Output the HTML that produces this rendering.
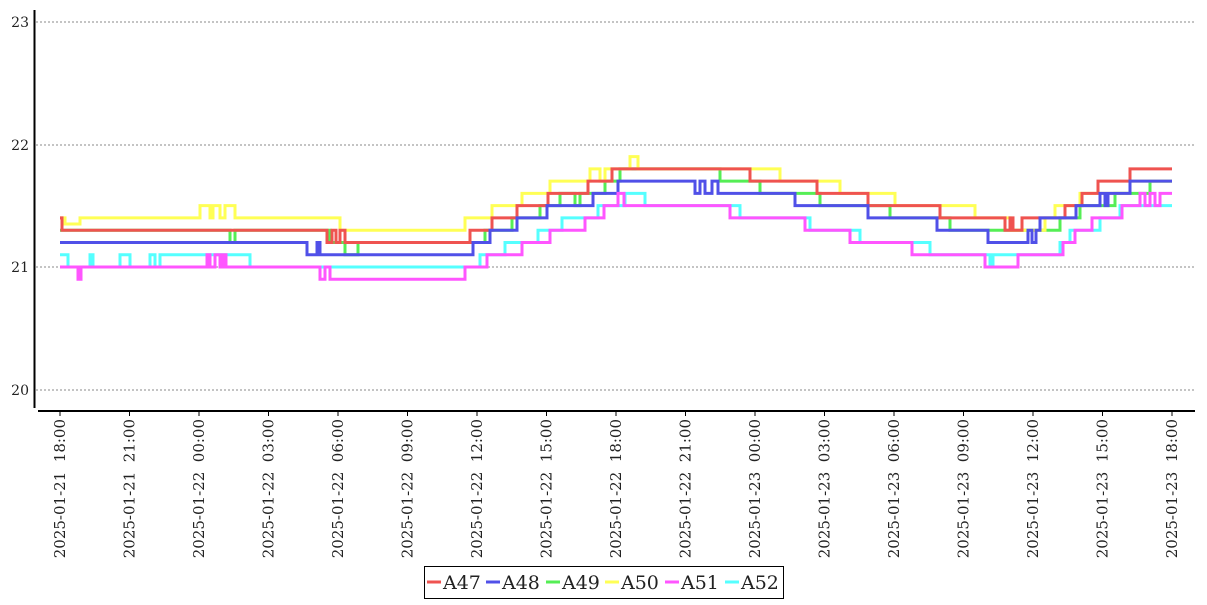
<!DOCTYPE html>
<html><head><meta charset="utf-8"><style>
body{margin:0;background:#fff;width:1207px;height:600px;overflow:hidden}
svg text{font-family:"DejaVu Serif","Liberation Serif",serif}
</style></head><body>
<svg id="c" width="1207" height="600" xmlns="http://www.w3.org/2000/svg">
<g stroke="#888" stroke-dasharray="2,2" stroke-width="1">
<line x1="36" y1="22" x2="1195" y2="22"/><line x1="36" y1="145" x2="1195" y2="145"/>
<line x1="36" y1="267" x2="1195" y2="267"/><line x1="36" y1="390" x2="1195" y2="390"/>
</g>
<line x1="34.5" y1="10" x2="34.5" y2="408" stroke="#000" stroke-width="2"/>
<line x1="38" y1="411" x2="1195" y2="411" stroke="#000" stroke-width="2"/>
<g font-size="14" text-anchor="end" fill="#222">
<text x="29" y="27">23</text><text x="29" y="150">22</text><text x="29" y="272">21</text><text x="29" y="395">20</text>
</g>
<g id="lines" fill="none" stroke-width="3"></g>
<g id="xt" font-size="15" fill="#222"></g>
<rect x="424.5" y="566.5" width="359" height="32" fill="#fff" stroke="#000"/>
<g font-size="19" fill="#222">
<line x1="427" y1="582" x2="441" y2="582" stroke="#ef5350" stroke-width="3"/><text x="443" y="589">A47</text>
<line x1="486" y1="582" x2="500" y2="582" stroke="#5050e8" stroke-width="3"/><text x="502" y="589">A48</text>
<line x1="546" y1="582" x2="560" y2="582" stroke="#55ee55" stroke-width="3"/><text x="562" y="589">A49</text>
<line x1="605" y1="582" x2="619" y2="582" stroke="#ffff55" stroke-width="3"/><text x="621" y="589">A50</text>
<line x1="665" y1="582" x2="679" y2="582" stroke="#ff55ff" stroke-width="3"/><text x="681" y="589">A51</text>
<line x1="725" y1="582" x2="739" y2="582" stroke="#55ffff" stroke-width="3"/><text x="741" y="589">A52</text>
</g>
</svg>
<script>
const Y=v=>267-(v-21)*122.7;
const labels=["2025-01-21  18:00","2025-01-21  21:00","2025-01-22  00:00","2025-01-22  03:00","2025-01-22  06:00","2025-01-22  09:00","2025-01-22  12:00","2025-01-22  15:00","2025-01-22  18:00","2025-01-22  21:00","2025-01-23  00:00","2025-01-23  03:00","2025-01-23  06:00","2025-01-23  09:00","2025-01-23  12:00","2025-01-23  15:00","2025-01-23  18:00"];
let xt='';
labels.forEach((l,i)=>{const x=60+i*69.5;
xt+=`<line x1="${x}" y1="411" x2="${x}" y2="416" stroke="#000"/><text transform="translate(${x+5},419) rotate(-90)" text-anchor="end" xml:space="preserve">${l}</text>`;});
document.getElementById('xt').innerHTML=xt;
function step(a){let d='M'+a[0][0]+','+Y(a[0][1]);let v=a[0][1];
for(let i=1;i<a.length;i++){const [x,nv]=a[i];d+=' L'+x+','+Y(v)+' L'+x+','+Y(nv);v=nv;}return d;}
const S=[
["#55ee55",[[60,21.3],[230,21.2],[235,21.3],[330,21.2],[345,21.1],[358,21.2],[460,21.2],[485,21.3],[512,21.4],[540,21.5],[560,21.6],[575,21.5],[580,21.6],[605,21.7],[610,21.7],[620,21.8],[720,21.7],[760,21.6],[820,21.5],[890,21.4],[950,21.3],[970,21.3],[1030,21.3],[1060,21.4],[1080,21.5],[1115,21.6],[1150,21.7],[1172,21.7]]],
["#ffff55",[[60,21.4],[65,21.35],[80,21.4],[200,21.5],[210,21.4],[213,21.5],[220,21.4],[225,21.5],[235,21.4],[340,21.3],[465,21.4],[492,21.5],[522,21.6],[550,21.7],[590,21.8],[600,21.7],[605,21.8],[630,21.9],[638,21.8],[780,21.7],[840,21.6],[895,21.5],[975,21.4],[1010,21.3],[1045,21.4],[1055,21.5],[1080,21.6],[1130,21.7],[1172,21.7]]],
["#ef5350",[[60,21.4],[62,21.3],[327,21.2],[332,21.3],[336,21.2],[340,21.3],[345,21.2],[470,21.3],[492,21.4],[517,21.5],[548,21.6],[588,21.7],[612,21.8],[750,21.7],[817,21.6],[868,21.5],[940,21.4],[1005,21.3],[1010,21.4],[1013,21.3],[1022,21.4],[1065,21.5],[1082,21.6],[1098,21.7],[1130,21.8],[1172,21.8]]],
["#5050e8",[[60,21.2],[307,21.1],[317,21.2],[320,21.1],[473,21.2],[490,21.3],[517,21.4],[547,21.5],[593,21.6],[618,21.7],[695,21.6],[700,21.7],[705,21.6],[712,21.7],[718,21.6],[795,21.5],[868,21.4],[937,21.3],[988,21.2],[1028,21.3],[1032,21.2],[1036,21.3],[1040,21.4],[1076,21.5],[1100,21.6],[1105,21.5],[1108,21.6],[1130,21.7],[1172,21.7]]],
["#55ffff",[[60,21.1],[68,21.0],[90,21.1],[93,21.0],[120,21.1],[130,21.0],[150,21.1],[155,21.0],[160,21.1],[250,21.0],[270,21.0],[465,21.0],[480,21.1],[505,21.2],[538,21.3],[562,21.4],[598,21.5],[625,21.6],[645,21.5],[740,21.4],[810,21.3],[860,21.2],[930,21.1],[990,21.0],[993,21.1],[1060,21.2],[1070,21.3],[1100,21.4],[1120,21.5],[1172,21.5]]],
["#ff55ff",[[60,21.0],[78,20.9],[81,21.0],[207,21.1],[210,21.0],[215,21.1],[220,21.0],[223,21.1],[226,21.0],[320,20.9],[325,21.0],[330,20.9],[465,21.0],[487,21.1],[522,21.2],[550,21.3],[585,21.4],[604,21.5],[618,21.6],[624,21.5],[730,21.4],[805,21.3],[850,21.2],[912,21.1],[985,21.0],[1018,21.1],[1063,21.2],[1075,21.3],[1092,21.4],[1122,21.5],[1140,21.6],[1145,21.5],[1150,21.6],[1155,21.5],[1160,21.6],[1172,21.6]]]
];
let h='';S.forEach(([c,a])=>{h+=`<path d="${step(a)}" stroke="${c}"/>`;});
document.getElementById('lines').innerHTML=h;
</script>
</body></html>
